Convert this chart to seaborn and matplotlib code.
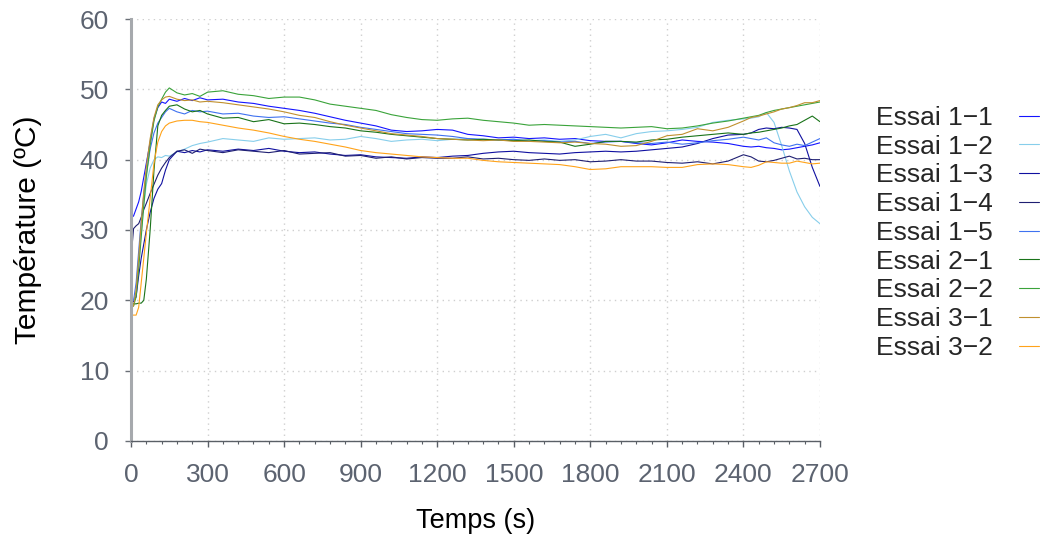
import seaborn as sns
import matplotlib.pyplot as plt
from matplotlib.ticker import MultipleLocator
import pandas as pd

# time axis (s): dense at start, 60 s steps, then 30 s near the end
temps = [0, 10, 20, 30, 40, 50, 60, 75, 90, 105, 120, 135, 150, 180, 210, 240, 270, 300,
         360, 420, 480, 540, 600, 660, 720, 780, 840, 900, 960, 1020, 1080, 1140, 1200,
         1260, 1320, 1380, 1440, 1500, 1560, 1620, 1680, 1740, 1800, 1860, 1920, 1980,
         2040, 2100, 2160, 2220, 2280, 2340,
         2400, 2430, 2460, 2490, 2520, 2550, 2580, 2610, 2640, 2670, 2700]

essai_1_1 = [31.7, 32.0, 33.0, 34.0, 35.5, 37.5, 39.5, 42.5, 45.8, 47.4, 48.2, 48.0, 48.6, 48.3, 48.7, 48.4, 48.8, 48.5,
             48.6, 48.2, 48.0, 47.6, 47.3, 47.0, 46.6, 46.1, 45.6, 45.2, 44.8, 44.2, 44.0, 44.1, 44.3,
             44.2, 43.6, 43.4, 43.1, 43.2, 43.0, 43.1, 42.9, 43.0, 42.7, 42.6, 42.6, 42.3,
             42.1, 42.4, 42.8, 42.6, 42.5, 42.3,
             41.9, 41.8, 41.9, 41.7, 41.6, 41.4, 41.5, 41.7, 41.9, 42.1, 42.4]
essai_1_2 = [20.0, 20.0, 21.0, 25.0, 29.5, 33.5, 36.5, 38.8, 40.0, 40.4, 40.3, 40.6, 40.5, 41.1, 41.5, 42.0, 42.3, 42.5,
             43.0, 42.8, 42.6, 43.1, 42.9, 43.0, 43.1, 42.8, 42.9, 43.3, 43.0, 42.6, 42.8, 42.9, 42.7,
             42.9, 43.0, 42.8, 42.8, 42.9, 42.7, 42.8, 42.6, 42.8, 43.3, 43.6, 43.1, 43.7,
             44.0, 44.1, 44.3, 44.6, 45.3, 45.6,
             45.8, 45.9, 46.1, 46.7, 45.3, 42.0, 38.4, 35.4, 33.3, 31.8, 30.9]
essai_1_3 = [19.8, 19.8, 20.5, 23.5, 26.0, 28.0, 30.0, 32.5, 34.5, 35.8, 36.6, 38.5, 40.0, 41.2, 41.0, 41.3, 41.1, 41.4,
             41.2, 41.5, 41.3, 41.6, 41.2, 41.0, 41.1, 40.8, 40.6, 40.7, 40.4, 40.3, 40.2, 40.4, 40.3,
             40.5, 40.6, 40.9, 41.1, 41.2, 41.0, 40.9, 40.8, 41.0, 41.1, 41.2, 41.1, 41.2,
             41.4, 41.6, 41.8, 42.3, 43.0, 43.5,
             43.6, 43.8, 44.3, 44.5, 44.4, 44.6, 44.5, 44.3, 42.3, 38.9, 36.2]
essai_1_4 = [26.0, 30.2, 30.6, 30.9, 31.8, 32.9, 33.8, 35.2, 36.5, 37.8, 38.8, 39.6, 40.3, 41.2, 41.4, 40.9, 41.5, 41.3,
             41.0, 41.4, 41.2, 41.0, 41.3, 40.8, 40.9, 41.0, 40.5, 40.6, 40.2, 40.4, 40.1, 40.3, 40.2,
             40.2, 40.4, 40.1, 40.2, 40.0, 39.9, 40.1, 39.9, 40.0, 39.7, 39.8, 40.0, 39.8,
             39.8, 39.6, 39.5, 39.7, 39.4, 39.8,
             40.7, 40.4, 39.8, 39.7, 39.9, 40.2, 40.5, 40.1, 40.2, 40.0, 40.0]
essai_1_5 = [20.0, 20.0, 22.5, 27.0, 31.5, 35.0, 38.0, 41.5, 43.8, 45.2, 46.0, 46.8, 47.3, 46.8, 46.5, 47.0, 46.8, 46.9,
             46.5, 46.6, 46.2, 46.0, 46.1, 45.8, 45.5, 45.2, 45.0, 44.6, 44.3, 44.0, 43.7, 43.6, 43.5,
             43.3, 43.0, 42.9, 42.8, 42.9, 42.6, 42.7, 42.5, 42.6, 42.3, 42.5, 42.6, 42.4,
             42.3, 42.5, 42.2, 42.4, 42.7, 42.9,
             43.2, 43.0, 42.8, 43.1, 42.4, 42.1, 41.9, 42.2, 42.0, 42.5, 43.0]
essai_2_1 = [19.5, 19.5, 19.5, 19.6, 19.6, 20.0, 23.0, 30.0, 38.5, 44.8, 46.3, 47.0, 47.6, 47.8, 47.2, 46.8, 47.0, 46.5,
             45.9, 46.0, 45.4, 45.7, 45.1, 45.2, 45.0, 44.7, 44.5, 44.1, 43.9, 43.6, 43.4, 43.2, 43.0,
             42.9, 42.8, 42.9, 42.8, 42.7, 42.8, 42.6, 42.5, 41.9, 42.2, 42.6, 42.6, 42.5,
             42.8, 42.9, 43.2, 43.4, 43.6, 43.8,
             43.6, 43.8, 43.9, 44.1, 44.3, 44.5, 44.8, 45.0, 45.6, 46.2, 45.4]
essai_2_2 = [19.0, 19.2, 20.5, 24.5, 29.0, 33.5, 37.5, 42.0, 45.5, 47.5, 48.6, 49.6, 50.2, 49.5, 49.2, 49.4, 49.0, 49.6,
             49.8, 49.3, 49.1, 48.7, 48.9, 48.9, 48.5, 47.9, 47.6, 47.3, 47.0, 46.4, 46.0, 45.7, 45.6,
             45.8, 45.9, 45.6, 45.4, 45.2, 44.9, 45.0, 44.9, 44.8, 44.7, 44.6, 44.5, 44.6,
             44.7, 44.4, 44.5, 44.8, 45.2, 45.5,
             45.9, 46.1, 46.3, 46.7, 47.0, 47.2, 47.4, 47.6, 47.8, 48.0, 48.2]
essai_3_1 = [19.0, 19.2, 21.5, 26.0, 31.0, 35.5, 39.0, 43.0, 46.0, 47.8, 48.5, 48.9, 49.0, 48.6, 48.4, 48.5, 48.2, 48.3,
             48.1, 47.8, 47.5, 47.2, 46.8, 46.3, 46.0, 45.4, 44.9, 44.5, 44.1, 43.7, 43.5, 43.3, 43.0,
             42.9, 42.8, 42.7, 42.8, 42.6, 42.6, 42.5, 42.4, 42.5, 42.3, 42.2, 41.9, 42.0,
             42.6, 43.4, 43.6, 44.4, 44.1, 44.6,
             45.5, 46.0, 46.2, 46.5, 46.8, 47.2, 47.4, 47.7, 48.1, 48.1, 48.4]
essai_3_2 = [17.9, 17.9, 17.9, 19.0, 22.5, 26.0, 29.5, 34.5, 39.5, 42.5, 44.0, 44.8, 45.2, 45.5, 45.6, 45.6, 45.4, 45.3,
             44.9, 44.5, 44.2, 43.8, 43.3, 42.9, 42.6, 42.2, 41.8, 41.3, 41.0, 40.8, 40.6, 40.4, 40.3,
             40.2, 40.2, 39.9, 39.7, 39.6, 39.5, 39.4, 39.3, 39.0, 38.6, 38.7, 39.0, 39.0,
             39.0, 38.9, 38.9, 39.3, 39.4, 39.3,
             39.0, 38.9, 39.2, 39.7, 39.6, 39.5, 39.5, 39.8, 39.6, 39.4, 39.5]

noms = ['Essai 1\u22121', 'Essai 1\u22122', 'Essai 1\u22123', 'Essai 1\u22124', 'Essai 1\u22125',
        'Essai 2\u22121', 'Essai 2\u22122', 'Essai 3\u22121', 'Essai 3\u22122']
series = [essai_1_1, essai_1_2, essai_1_3, essai_1_4, essai_1_5,
          essai_2_1, essai_2_2, essai_3_1, essai_3_2]
couleurs = ['#1414ff', '#87ceeb', '#1010a0', '#1f1f72', '#3f72f0',
            '#197319', '#3aa33a', '#c0902e', '#ffa31a']

rows = []
for nom, vals in zip(noms, series):
    for t, v in zip(temps, vals):
        rows.append({'temps': t, 'temp': v, 'essai': nom})
df = pd.DataFrame(rows)

sns.set_style('white')
plt.rcParams['font.family'] = ['Liberation Sans', 'DejaVu Sans']
fs = 19

fig = plt.figure(figsize=(10.44, 5.37), dpi=100)
ax = fig.add_axes([0.1255, 0.1788, 0.6599, 0.7858])

sns.lineplot(data=df, x='temps', y='temp', hue='essai', hue_order=noms,
             palette=dict(zip(noms, couleurs)), linewidth=0.8, legend=False, ax=ax)

ax.set_xlim(0, 2700)
ax.set_ylim(0, 60)
ax.xaxis.set_major_locator(MultipleLocator(300))
ax.xaxis.set_minor_locator(MultipleLocator(60))
ax.yaxis.set_major_locator(MultipleLocator(10))
ax.grid(True, which='major', linestyle=(0, (1, 3)), color='#cfcfcf', linewidth=1)

for s in ['top', 'right']:
    ax.spines[s].set_visible(False)
ax.spines['left'].set_color('#a6a9ad')
ax.spines['left'].set_linewidth(2.2)
ax.spines['bottom'].set_color('#5a5f66')
ax.spines['bottom'].set_linewidth(1.0)

tick_col = '#5c6370'
ax.tick_params(axis='y', which='major', direction='out', length=4, width=1,
               color='#6a6f76', labelsize=fs, labelcolor=tick_col, pad=12, left=True)
ax.tick_params(axis='x', which='major', direction='out', length=4, width=1,
               color='#5a5f66', labelsize=fs, labelcolor=tick_col, pad=12, bottom=True)
ax.tick_params(axis='x', which='minor', direction='out', length=2.5, width=0.8,
               color='#5a5f66', bottom=True)

ax.set_xlabel('Temps (s)', fontsize=19.5, color='black', labelpad=15)
ax.set_ylabel('Température (ºC)', fontsize=21.5, color='black', labelpad=27)

handles = ax.get_lines()[:len(noms)]
ax.legend(handles, noms, loc='upper left', bbox_to_anchor=(1.066, 0.819),
          frameon=False, markerfirst=False, fontsize=fs, labelspacing=0.18,
          handlelength=0.76, handletextpad=1.0, borderaxespad=0)

fig.savefig('out.png', dpi=100)
